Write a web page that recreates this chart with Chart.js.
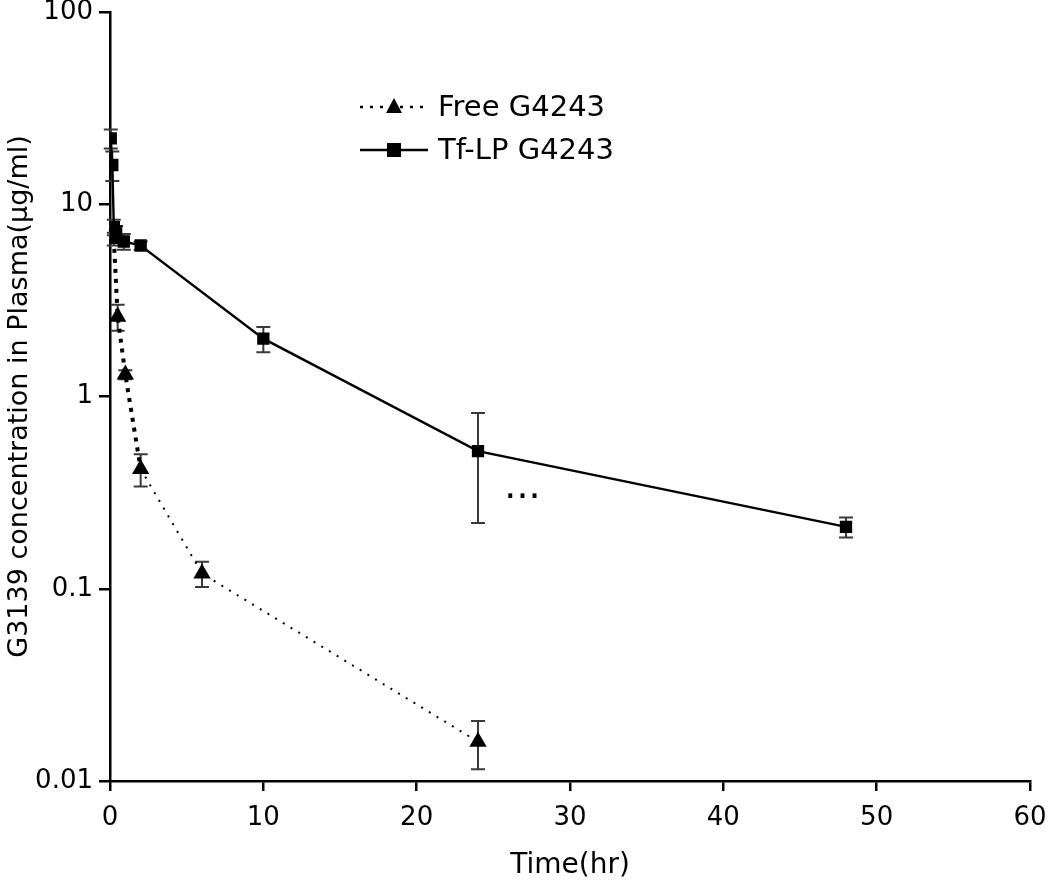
<!DOCTYPE html>
<html>
<head>
<meta charset="utf-8">
<script src="https://cdn.jsdelivr.net/npm/chart.js@4/dist/chart.umd.min.js"></script>
<style>
  html, body { margin: 0; padding: 0; background: #fff; }
  #wrap { width: 1050px; height: 887px; }
</style>
</head>
<body>
<div id="wrap"><canvas id="chart" width="1050" height="887"></canvas></div>
<script>
// Tf-LP G4243 (squares, solid line)
const tfTimes = [0.05, 0.15, 0.25, 0.4, 0.9, 2, 10, 24, 48];
const tfConc = [22, 16, 7.6, 7.2, 6.4, 6.1, 2.0, 0.52, 0.21];
const tfSd = [2.5, 2.8, 0.7, 0.5, 0.6, 0.3, 0.3, 0.3, 0.025];

// Free G4243 (triangles, dotted line)
const freeTimes = [0.25, 0.5, 1, 2, 6, 24];
const freeConc = [6.6, 2.6, 1.3, 0.42, 0.12, 0.016];
const freeSd = [0.5, 0.4, 0.07, 0.08, 0.018, 0.0045];

const xTicks = [0, 10, 20, 30, 40, 50, 60];
const yTicks = [0.01, 0.1, 1, 10, 100];
const yTickLabels = ['0.01', '0.1', '1', '10', '100'];

const FONT = 'DejaVu Sans';

function toPoints(xs, ys) {
    return xs.map((x, i) => ({ x: x, y: ys[i] }));
}

// error bars, drawn under the markers
const errorBars = {
    id: 'errorBars',
    beforeDatasetsDraw(chart) {
        const ctx = chart.ctx;
        const xs = chart.scales.x, ys = chart.scales.y;
        chart.data.datasets.forEach(ds => {
            const sd = ds.sd;
            ctx.save();
            ctx.strokeStyle = '#3a3a3a';
            ctx.lineWidth = 2;
            ds.data.forEach((p, i) => {
                const px = xs.getPixelForValue(p.x);
                const top = ys.getPixelForValue(p.y + sd[i]);
                const bot = ys.getPixelForValue(p.y - sd[i]);
                ctx.beginPath();
                ctx.moveTo(px, top); ctx.lineTo(px, bot);
                ctx.moveTo(px - 7, top); ctx.lineTo(px + 7, top);
                ctx.moveTo(px - 7, bot); ctx.lineTo(px + 7, bot);
                ctx.stroke();
            });
            ctx.restore();
        });
    }
};

// legend in the plot + the stray "..." mark
const extras = {
    id: 'extras',
    afterDraw(chart) {
        const ctx = chart.ctx;
        const rows = [
            { label: 'Free G4243', dash: [3, 7], style: 'triangle', y: 107 },
            { label: 'Tf-LP G4243', dash: [], style: 'rect', y: 150 }
        ];
        ctx.save();
        rows.forEach(r => {
            ctx.strokeStyle = '#000';
            ctx.lineWidth = 2.5;
            ctx.setLineDash(r.dash);
            ctx.beginPath();
            ctx.moveTo(360, r.y); ctx.lineTo(428, r.y);
            ctx.stroke();
            ctx.setLineDash([]);
            ctx.fillStyle = '#000';
            if (r.style === 'rect') {
                ctx.fillRect(387, r.y - 7, 14, 14);
            } else {
                ctx.beginPath();
                ctx.moveTo(394, r.y - 9);
                ctx.lineTo(402, r.y + 6);
                ctx.lineTo(386, r.y + 6);
                ctx.closePath();
                ctx.fill();
            }
            ctx.font = '29px "' + FONT + '"';
            ctx.textBaseline = 'middle';
            ctx.textAlign = 'left';
            ctx.fillText(r.label, 438, r.y + 1);
        });
        const dx = chart.scales.x.getPixelForValue(26.9);
        const dy = chart.scales.y.getPixelForValue(0.29);
        ctx.font = '38px "' + FONT + '"';
        ctx.textAlign = 'center';
        ctx.textBaseline = 'alphabetic';
        ctx.fillText('...', dx, dy - 2);
        ctx.restore();
    }
};

new Chart(document.getElementById('chart'), {
    type: 'line',
    data: {
        datasets: [
            {
                label: 'Free G4243',
                data: toPoints(freeTimes, freeConc),
                sd: freeSd,
                borderColor: '#000',
                backgroundColor: '#000',
                borderWidth: 2,
                borderDash: [2, 7],
                segment: {
                    borderWidth: c => c.p0DataIndex < 3 ? 4 : 2,
                    borderDash: c => c.p0DataIndex < 3 ? [4, 6] : [2, 7]
                },
                pointStyle: 'triangle',
                pointRadius: 8,
                pointBackgroundColor: '#000',
                pointBorderColor: '#000',
                tension: 0
            },
            {
                label: 'Tf-LP G4243',
                data: toPoints(tfTimes, tfConc),
                sd: tfSd,
                borderColor: '#000',
                backgroundColor: '#000',
                borderWidth: 2.4,
                pointStyle: 'rect',
                pointRadius: 7,
                pointBackgroundColor: '#000',
                pointBorderColor: '#000',
                tension: 0
            }
        ]
    },
    options: {
        responsive: false,
        animation: false,
        layout: { padding: { top: 12, right: 20, left: 0, bottom: 0 } },
        plugins: {
            legend: { display: false },
            tooltip: { enabled: false }
        },
        scales: {
            x: {
                type: 'linear',
                min: 0,
                max: 60,
                afterBuildTicks: s => { s.ticks = xTicks.map(v => ({ value: v })); },
                afterFit: s => { s.height = 106; s.paddingLeft = 0; s.paddingRight = 0; },
                grid: { drawOnChartArea: false, drawTicks: true, tickLength: 10, color: '#000', lineWidth: 2.5 },
                border: { display: true, color: '#000', width: 2.5 },
                ticks: { color: '#000', font: { family: FONT, size: 26 }, padding: 12, maxRotation: 0 },
                title: { display: true, text: 'Time(hr)', color: '#000', font: { family: FONT, size: 28 }, padding: { top: 0 } }
            },
            y: {
                type: 'logarithmic',
                min: 0.01,
                max: 100,
                afterBuildTicks: s => { s.ticks = yTicks.map(v => ({ value: v })); },
                afterFit: s => { s.width = 110; s.paddingTop = 0; s.paddingBottom = 0; },
                grid: { drawOnChartArea: false, drawTicks: true, tickLength: 11, color: '#000', lineWidth: 2.5 },
                border: { display: true, color: '#000', width: 2.5 },
                ticks: {
                    color: '#000',
                    font: { family: FONT, size: 26 },
                    padding: 6,
                    callback: (v) => {
                        const i = yTicks.indexOf(v);
                        return i >= 0 ? yTickLabels[i] : '';
                    }
                },
                title: { display: true, text: 'G3139 concentration in Plasma(μg/ml)', color: '#000', font: { family: FONT, size: 27 }, padding: { bottom: 2 } }
            }
        }
    },
    plugins: [errorBars, extras]
});
</script>
</body>
</html>
